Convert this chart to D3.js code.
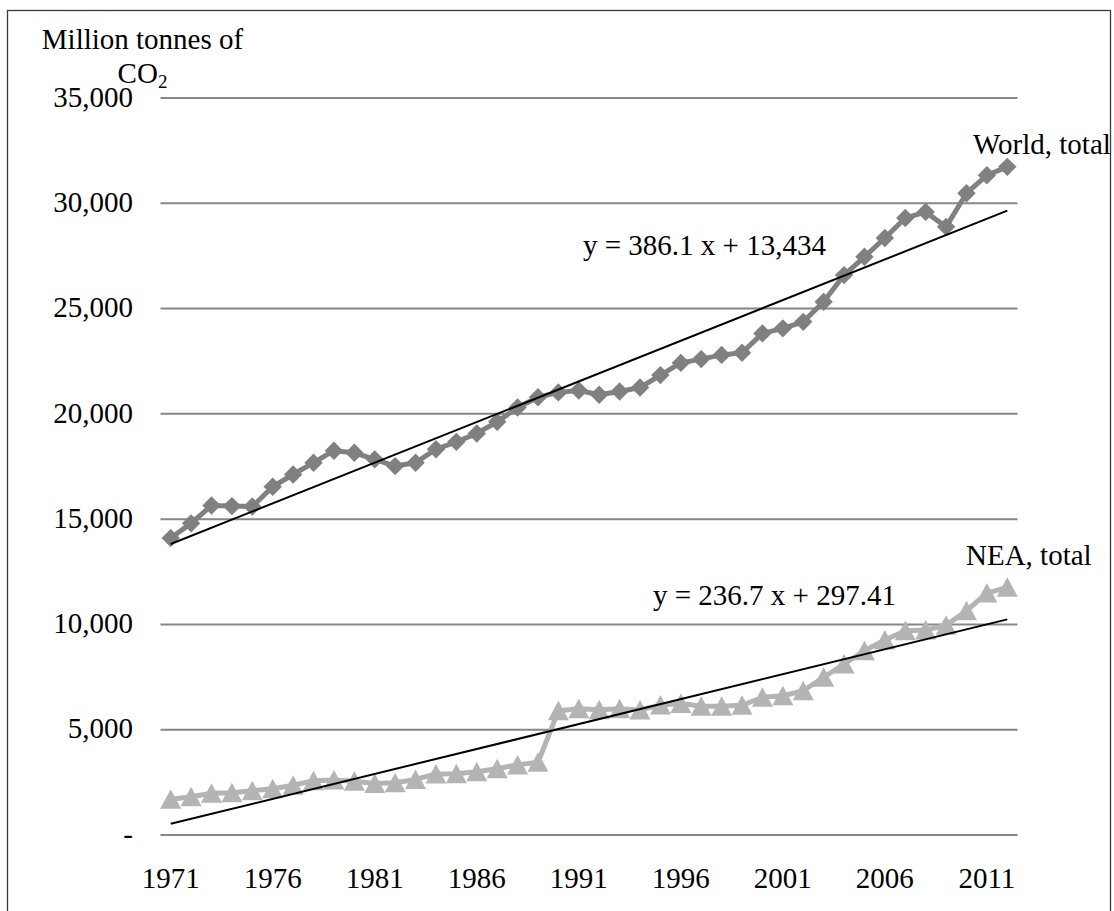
<!DOCTYPE html>
<html>
<head>
<meta charset="utf-8">
<script src="https://cdn.jsdelivr.net/npm/d3@7"></script>
<style>
  html, body { margin: 0; padding: 0; background: #fff; }
  svg { display: block; }
  text { font-family: "Liberation Serif", "Times New Roman", serif; fill: #000; }
</style>
</head>
<body>
<svg id="chart" width="1114" height="911"></svg>
<script>
// ---- data ----
const years = d3.range(1971, 2013);
const tickYears = [1971, 1976, 1981, 1986, 1991, 1996, 2001, 2006, 2011];
const yTicks = [0, 5000, 10000, 15000, 20000, 25000, 30000, 35000];

const worldTotal = [
  14100, 14800, 15650, 15620, 15600, 16540, 17120, 17680, 18250, 18150,
  17840, 17520, 17680, 18320, 18670, 19070, 19620, 20300, 20790, 21020,
  21110, 20910, 21060, 21250, 21840, 22420, 22600, 22800, 22900, 23820,
  24060, 24370, 25320, 26590, 27460, 28350, 29300, 29590, 28880, 30480,
  31330, 31730
];
const neaTotal = [
  1700, 1820, 1980, 2010, 2100, 2200, 2360, 2580, 2610, 2550,
  2450, 2480, 2640, 2900, 2910, 3000, 3150, 3330, 3450, 5900,
  6000, 5950, 6000, 5940, 6170, 6250, 6110, 6110, 6160, 6540,
  6610, 6850, 7490, 8120, 8750, 9260, 9700, 9730, 9960, 10650,
  11490, 11760
];

// linear trend lines as printed on the chart: y = a*x + b, x = 1..42
const worldTrend = { a: 386.1, b: 13434, label: "y = 386.1 x + 13,434" };
const neaTrend = { a: 236.7, b: 297.41, label: "y = 236.7 x + 297.41" };

const W = 1114, H = 911;
const svg = d3.select("#chart");

// outer frame
svg.append("rect")
  .attr("x", 7.5).attr("y", 10.5)
  .attr("width", 1103).attr("height", 930)
  .attr("fill", "none")
  .attr("stroke", "#3a3a3a")
  .attr("stroke-width", 1.3);

const x = d3.scaleBand().domain(years).range([160.5, 1017.5]).padding(0);
const cx = d => x(d) + x.bandwidth() / 2;
const y = d3.scaleLinear().domain([0, 35000]).range([835, 98]);

// gridlines
svg.append("g")
  .selectAll("line")
  .data(yTicks)
  .enter().append("line")
  .attr("x1", 160.5).attr("x2", 1017.5)
  .attr("y1", d => y(d)).attr("y2", d => y(d))
  .attr("stroke", "#868686")
  .attr("stroke-width", 2);

// y tick labels (zero shown as "-")
const fmt = d3.format(",");
svg.append("g")
  .selectAll("text")
  .data(yTicks)
  .enter().append("text")
  .attr("x", 133)
  .attr("y", d => y(d))
  .attr("dy", "0.3em")
  .attr("text-anchor", "end")
  .style("font-size", "29px")
  .text(d => d === 0 ? "-" : fmt(d));

// x tick labels
svg.append("g")
  .selectAll("text")
  .data(tickYears)
  .enter().append("text")
  .attr("x", d => cx(d))
  .attr("y", 888)
  .attr("text-anchor", "middle")
  .style("font-size", "29px")
  .text(d => d);

// axis title
svg.append("text")
  .attr("x", 142.5).attr("y", 49)
  .attr("text-anchor", "middle")
  .style("font-size", "29px")
  .text("Million tonnes of");
const co2 = svg.append("text")
  .attr("x", 142.5).attr("y", 83)
  .attr("text-anchor", "middle")
  .style("font-size", "29px");
co2.append("tspan").text("CO");
co2.append("tspan").attr("dy", 5).style("font-size", "19px").text("2");

// series lines
const line = d3.line().x((d, i) => cx(years[i])).y(d => y(d));

svg.append("path")
  .datum(worldTotal)
  .attr("d", line)
  .attr("fill", "none")
  .attr("stroke", "#808080")
  .attr("stroke-width", 5)
  .attr("stroke-linejoin", "round");

svg.append("path")
  .datum(neaTotal)
  .attr("d", line)
  .attr("fill", "none")
  .attr("stroke", "#b4b4b4")
  .attr("stroke-width", 5)
  .attr("stroke-linejoin", "round");

// markers: diamonds for World, triangles for NEA
const diamond = "M0,-9.2L9.2,0L0,9.2L-9.2,0Z";
const triangle = "M0,-10L10.5,9.5L-10.5,9.5Z";

svg.append("g")
  .selectAll("path")
  .data(worldTotal)
  .enter().append("path")
  .attr("transform", (d, i) => `translate(${cx(years[i])},${y(d)})`)
  .attr("d", diamond)
  .attr("fill", "#808080");

svg.append("g")
  .selectAll("path")
  .data(neaTotal)
  .enter().append("path")
  .attr("transform", (d, i) => `translate(${cx(years[i])},${y(d)})`)
  .attr("d", triangle)
  .attr("fill", "#b4b4b4");

// trend lines
[worldTrend, neaTrend].forEach(t => {
  const n = years.length;
  svg.append("line")
    .attr("x1", cx(years[0])).attr("y1", y(t.a * 1 + t.b))
    .attr("x2", cx(years[n - 1])).attr("y2", y(t.a * n + t.b))
    .attr("stroke", "#000")
    .attr("stroke-width", 2);
});

// labels
svg.append("text").attr("x", 583).attr("y", 255)
  .style("font-size", "29px").text(worldTrend.label);
svg.append("text").attr("x", 653).attr("y", 605)
  .style("font-size", "29px").text(neaTrend.label);
svg.append("text").attr("x", 973).attr("y", 154)
  .style("font-size", "29px").text("World, total");
svg.append("text").attr("x", 966).attr("y", 565)
  .style("font-size", "29px").text("NEA, total");
</script>
</body>
</html>
